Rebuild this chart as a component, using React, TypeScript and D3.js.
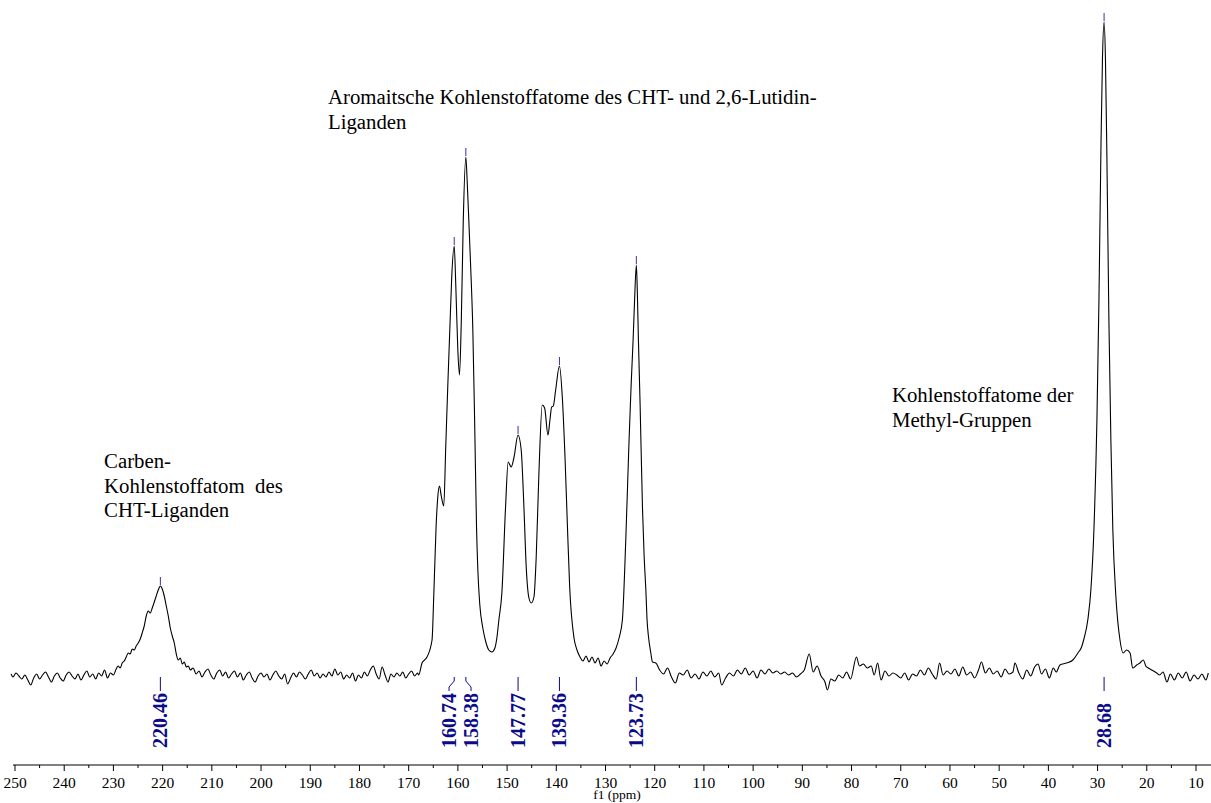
import React from 'react';
import * as d3 from 'd3';

const W = 1211;
const H = 803;

// [ppm, intensity above baseline]
const baselineLeft: [number, number][] = [
  [250.8, 2], [250.4, -1], [249.8, 3], [249.2, 0], [248.6, -3], [248.0, 1], [247.4, -4], [246.8, -9],
  [246.2, -2], [245.6, 2], [245.0, -3], [244.4, 1], [243.8, 4], [243.2, -1], [242.6, -6], [242.0, 0],
  [241.4, 3], [240.8, -2], [240.2, -5], [239.6, 1], [239.0, 4], [238.4, 0], [237.8, -3], [237.2, 2],
  [236.6, -4], [236.0, 1], [235.4, 5], [234.8, -1], [234.2, 2], [233.6, -3], [233.0, 3], [232.4, 0],
  [231.8, 6], [231.2, -2], [230.6, 3], [230.0, 1], [229.6, 5],
];

const carbenePeak: [number, number][] = [
  [229.44, 7], [229.03, 10], [228.62, 8], [228.22, 13], [227.81, 15], [227.40, 19], [226.99, 23],
  [226.59, 22], [226.18, 27], [225.77, 26], [225.37, 30], [224.96, 33], [224.55, 37], [224.15, 43],
  [223.74, 50], [223.33, 60], [222.92, 65], [222.52, 63], [222.11, 68], [221.70, 74], [221.30, 80],
  [220.89, 86], [220.46, 90], [220.07, 87], [219.67, 80], [219.26, 70], [218.85, 60], [218.44, 48],
  [218.04, 40], [217.63, 33], [217.22, 22], [216.82, 16], [216.41, 18], [216.00, 12], [215.59, 14],
  [215.19, 9], [214.78, 10], [214.37, 6],
];

const baselineMid: [number, number][] = [
  [213.8, 8], [213.2, 2], [212.6, 5], [212.0, -1], [211.4, 4], [210.8, 7], [210.2, 1], [209.6, -3],
  [209.0, 3], [208.4, 6], [207.8, 0], [207.2, 4], [206.6, -2], [206.0, 2], [205.4, 5], [204.8, -1],
  [204.2, 3], [203.6, -4], [203.0, 1], [202.4, 4], [201.8, -2], [201.2, -6], [200.6, 0], [200.0, 3],
  [199.4, -1], [198.8, 2], [198.2, -4], [197.6, 1], [197.0, 5], [196.4, 0], [195.8, -3], [195.2, 2],
  [194.6, -8], [194.0, -2], [193.4, 3], [192.8, -1], [192.2, 4], [191.6, 1], [191.0, -3], [190.4, 2],
  [189.8, 6], [189.2, 0], [188.6, 3], [188.0, -2], [187.4, 2], [186.8, -1], [186.2, 4], [185.6, 0],
  [185.0, 7], [184.4, 1], [183.8, 4], [183.2, -3], [182.6, 1], [182.0, -2], [181.4, 3], [180.8, -5],
  [180.2, 1], [179.6, -2], [179.0, 4], [178.4, 0], [177.8, 6], [177.2, 10], [176.6, 2], [176.0, -3],
  [175.4, 9], [174.8, 1], [174.2, -6], [173.6, 2], [173.0, -1], [172.4, 3], [171.8, 0], [171.2, 4],
  [170.6, -2], [170.0, 2], [169.4, 5], [168.8, 0], [168.2, 3],
];

const aromaticPeaks: [number, number][] = [
  [167.96, 1], [167.29, 13], [166.27, 19], [165.25, 36], [164.9, 80], [164.43, 149], [164.1, 178],
  [163.74, 190], [163.38, 180], [162.87, 170], [162.46, 230], [162.05, 290], [161.64, 346],
  [161.24, 400], [160.74, 430], [160.42, 390], [160.01, 326], [159.67, 301], [159.30, 356],
  [158.90, 456], [158.38, 519], [158.12, 496], [157.78, 456], [157.43, 413], [156.96, 346],
  [156.56, 246], [156.21, 149], [155.94, 106], [155.54, 71], [154.93, 48], [154.32, 34], [153.71, 26],
  [153.09, 24], [152.48, 28], [152.08, 38], [151.67, 56], [151.06, 83], [150.31, 169], [149.78, 214],
  [149.17, 209], [148.62, 218], [147.77, 241], [147.13, 226], [146.58, 169], [146.11, 109],
  [145.56, 78], [145.09, 73], [144.54, 79], [144.08, 119], [143.53, 203], [142.85, 271], [142.37, 268],
  [141.69, 241], [141.29, 256], [140.94, 269], [140.61, 270], [140.13, 286], [139.36, 310],
  [138.78, 279], [138.23, 219], [137.76, 153], [137.28, 89], [136.40, 38], [135.79, 26], [135.18, 19],
  [134.57, 15], [133.96, 20], [133.35, 14], [132.74, 19], [132.12, 13], [131.51, 18], [130.90, 10],
  [130.29, 15], [129.68, 12], [129.07, 18], [128.46, 22], [127.85, 28], [127.24, 38], [126.57, 56],
  [125.88, 136], [125.21, 236], [124.80, 290], [124.39, 336], [124.09, 376], [123.73, 411],
  [123.54, 386], [123.31, 336], [122.96, 270], [122.49, 169], [122.15, 120], [121.80, 86],
  [121.54, 55], [121.28, 40], [120.79, 23], [120.46, 14], [119.77, 13],
];

const baselineRight: [number, number][] = [
  [119.0, 6], [118.2, 2], [117.4, 8], [116.6, -1], [115.8, -7], [115.0, 3], [114.2, 1], [113.4, 6],
  [112.6, -2], [111.8, 2], [111.0, -3], [110.2, 4], [109.4, 0], [108.6, 5], [107.8, -1], [107.0, 3],
  [106.4, -9], [105.6, -2], [104.8, 3], [104.0, 0], [103.2, 6], [102.4, 2], [101.6, 8], [100.8, 1],
  [100.0, 5], [99.2, -2], [98.4, 6], [97.6, 2], [96.8, 7], [96.0, 3], [95.2, 5], [94.4, 2], [93.6, 4],
  [92.8, 1], [92.0, 3], [91.2, -1], [90.4, 2], [89.6, 6], [88.6, 22], [87.8, 4], [87.0, 10], [86.2, 0],
  [85.4, -6], [84.9, -14], [84.2, -3], [83.4, -5], [82.6, 1], [81.8, -2], [81.0, 4], [80.2, -3],
  [79.0, 19], [78.4, 10], [77.6, 12], [76.8, 8], [76.0, 10], [75.4, 1], [74.7, 13], [74.0, -4],
  [73.2, 5], [72.4, 0], [71.6, 3], [70.8, 1], [70.0, -2], [69.2, 3], [68.4, -4], [67.6, 2], [66.8, 0],
  [66.0, 6], [65.2, 1], [64.4, 8], [63.6, 2], [62.8, -3], [62.1, 13], [61.4, 1], [60.6, 5], [59.8, 2],
  [59.0, 7], [58.2, 0], [57.4, 9], [56.6, 1], [55.8, 4], [55.0, -2], [54.2, 6], [53.6, 14], [52.8, 3],
  [52.0, 8], [51.2, 2], [50.4, 5], [49.6, -1], [48.8, 7], [48.0, 2], [47.2, 4], [46.8, 13], [46.0, 3],
  [45.2, -3], [44.4, 6], [43.6, 0], [42.8, 9], [42.1, 12], [41.4, 2], [40.6, 7], [39.8, -2], [39.0, 8],
  [38.4, 4],
];

const methylPeak: [number, number][] = [
  [37.66, 11], [36.30, 13], [35.02, 16], [34.0, 23], [33.25, 29], [32.78, 37], [31.96, 57],
  [31.35, 87], [30.74, 147], [30.13, 257], [29.72, 377], [29.32, 527], [29.01, 617], [28.68, 654],
  [28.40, 617], [28.10, 516], [27.70, 356], [27.30, 236], [26.90, 146], [26.30, 81], [25.45, 36],
  [24.80, 23], [24.10, 26], [23.40, 23], [22.87, 8], [22.05, 11], [21.4, 13], [20.70, 16], [20.2, 10],
  [19.70, 8], [19.0, 6], [18.0, 3], [17.4, 1], [16.7, 4], [15.9, -6],
];

const baselineEnd: [number, number][] = [
  [15.2, 2], [14.4, -4], [13.6, 3], [12.8, -2], [12.0, 4], [11.2, -5], [10.4, 1], [9.6, -3],
  [8.8, 2], [8.0, -4], [7.5, 3],
];

const peakLabels: number[] = [220.46, 160.74, 158.38, 147.77, 139.36, 123.73, 28.68];

const majorTicks: number[] = [250, 240, 230, 220, 210, 200, 190, 180, 170, 160, 150, 140, 130, 120, 110, 100, 90, 80, 70, 60, 50, 40, 30, 20, 10];
const minorTicks: number[] = [245, 235, 225, 215, 205, 195, 185, 175, 165, 155, 145, 135, 125, 115, 105, 95, 85, 75, 65, 55, 45, 35, 25, 15];

const aromaticText: string[] = ['Aromaitsche Kohlenstoffatome des CHT- und 2,6-Lutidin-', 'Liganden'];
const carbeneText: string[] = ['Carben-', 'Kohlenstoffatom  des', 'CHT-Liganden'];
const methylText: string[] = ['Kohlenstoffatome der', 'Methyl-Gruppen'];

const SERIF = "'Liberation Serif', 'Times New Roman', Times, serif";

export default function App() {
  const spectrum = [
    ...baselineLeft, ...carbenePeak, ...baselineMid, ...aromaticPeaks,
    ...baselineRight, ...methylPeak, ...baselineEnd,
  ];

  const x = d3.scaleLinear().domain([250, 10]).range([15, 1196]);
  const y = d3.scaleLinear().domain([0, 654]).range([676, 22]);

  const line = d3
    .line<[number, number]>()
    .x((d) => x(d[0]))
    .y((d) => y(d[1]))
    .curve(d3.curveMonotoneX);

  const peakHeight = (p: number) => {
    const near = spectrum.filter((d) => Math.abs(d[0] - p) < 0.3);
    return d3.max(near, (d) => d[1]) ?? 0;
  };

  const minGap = 22;
  const lx = peakLabels.map((p) => x(p));
  const labelX = [...lx];
  for (let i = 1; i < labelX.length; i++) {
    const gap = labelX[i] - labelX[i - 1];
    if (gap < minGap) {
      const push = (minGap - gap) / 2;
      labelX[i - 1] -= push;
      labelX[i] += push;
    }
  }

  const axisY = 765;
  const navy = '#0b0b8a';

  const blocks = [
    { lines: aromaticText, px: x(186.4), py: 104 },
    { lines: carbeneText, px: x(231.9), py: 468 },
    { lines: methylText, px: x(71.8), py: 402 },
  ];

  return (
    <svg
      width={W}
      height={H}
      style={{ position: 'absolute', left: 0, top: 0, background: '#fff', fontFamily: SERIF }}
    >
      <rect x={0} y={0} width={W} height={H} fill="#fff" />
      <path d={line(spectrum) ?? ''} fill="none" stroke="#000" strokeWidth={1.1} />

      {peakLabels.map((p, i) => {
        const px = lx[i];
        const tx = labelX[i];
        const top = y(peakHeight(p));
        const shifted = Math.abs(px - tx) > 0.5;
        return (
          <g key={p}>
            <line x1={px} x2={px} y1={top - 9} y2={top - 1} stroke="#3333aa" strokeWidth={1} />
            {shifted ? (
              <polyline
                points={`${px},677 ${px},681 ${tx},687 ${tx},691`}
                fill="none"
                stroke={navy}
                strokeWidth={1}
              />
            ) : (
              <line x1={tx} x2={tx} y1={677} y2={691} stroke={navy} strokeWidth={1} />
            )}
            <text
              transform={`translate(${tx},748) rotate(-90)`}
              dy="0.35em"
              fontSize={20}
              fontWeight="bold"
              fill={navy}
              textAnchor="start"
              style={{ fontFamily: SERIF }}
            >
              {p.toFixed(2)}
            </text>
          </g>
        );
      })}

      <line x1={x(250) - 2} x2={W} y1={axisY} y2={axisY} stroke="#000" strokeWidth={1} />
      {majorTicks.map((t) => (
        <g key={'M' + t}>
          <line x1={x(t)} x2={x(t)} y1={axisY} y2={axisY + 6} stroke="#000" strokeWidth={1} />
          <text x={x(t)} y={788} fontSize={15.5} textAnchor="middle" fill="#000" style={{ fontFamily: SERIF }}>
            {t}
          </text>
        </g>
      ))}
      {minorTicks.map((t) => (
        <line key={'m' + t} x1={x(t)} x2={x(t)} y1={axisY} y2={axisY + 3} stroke="#000" strokeWidth={1} />
      ))}
      <text x={617} y={799} fontSize={13.5} textAnchor="middle" fill="#000" style={{ fontFamily: SERIF }}>
        f1 (ppm)
      </text>

      {blocks.map((b, i) => (
        <text
          key={i}
          x={b.px}
          y={b.py}
          fontSize={20.8}
          fill="#000"
          style={{ whiteSpace: 'pre', fontFamily: SERIF }}
        >
          {b.lines.map((l, j) => (
            <tspan key={j} x={b.px} dy={j === 0 ? 0 : 24.5}>
              {l}
            </tspan>
          ))}
        </text>
      ))}
    </svg>
  );
}
